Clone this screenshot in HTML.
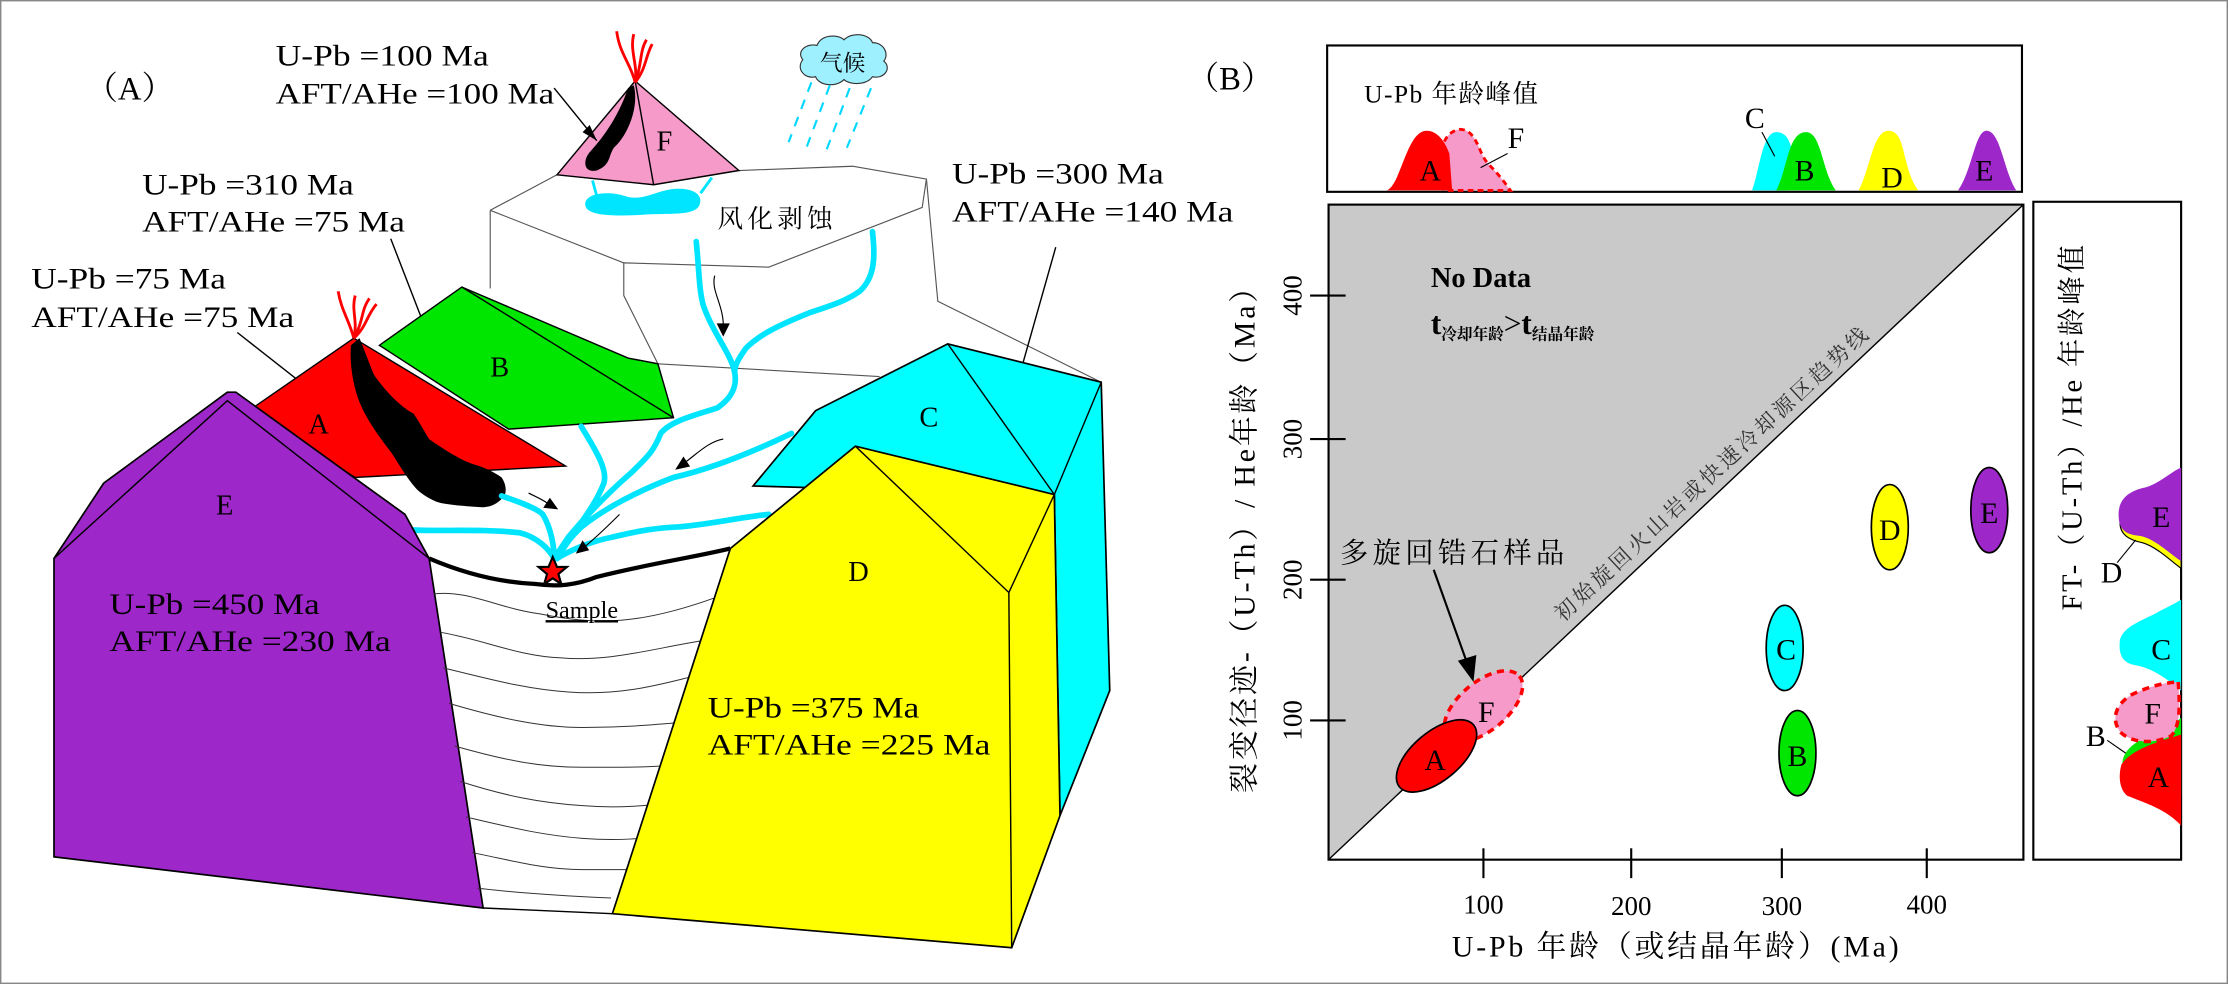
<!DOCTYPE html>
<html><head><meta charset="utf-8"><style>
html,body{margin:0;padding:0;background:#fff;}
svg{display:block;}
text{font-family:"Liberation Serif","Noto Serif CJK SC","Noto Sans CJK SC",serif;fill:#000;}
</style></head><body>
<svg width="2228" height="984" viewBox="0 0 1568 692.5" preserveAspectRatio="none" xmlns="http://www.w3.org/2000/svg">
<rect x="0.5" y="0.5" width="1567" height="691.5" fill="#fff" stroke="#888" stroke-width="1"/>

<!-- ========== PANEL A ========== -->
<text x="60" y="70" font-size="23">（A）</text>

<g fill="none" stroke="#555" stroke-width="0.8">
<polyline points="345,148 392,123"/>
<polyline points="520,120 600,117 652,126 649,146 541,188 439,185 345,148"/>
<polyline points="345,148 345,203"/>
<polyline points="439,185 439,208 463,256"/>
<polyline points="652,126 660,212 775,269"/>
<polyline points="463,256 619,265"/>
</g>
<path d="M412,145 C410,136 428,134 440,138 C452,142 462,134 474,133 C486,132 496,136 492,145 C488,152 470,150 455,151 C438,152 414,153 412,145 Z" fill="#00e5ff"/>
<path d="M417,127 L420,138 M501,125 L493,136" stroke="#00e5ff" stroke-width="2" fill="none"/>
<text x="505" y="160" font-size="18" letter-spacing="3">风化剥蚀</text>

<path d="M565,42 C560,36 568,30 575,32 C578,24 590,24 594,28 C600,22 612,24 614,30 C622,30 626,38 622,43 C628,48 622,56 614,54 C610,60 598,60 594,56 C588,62 576,60 574,54 C566,56 560,48 565,42 Z" fill="#9ef0ff" stroke="#333" stroke-width="0.8"/>
<text x="577" y="50" font-size="16">气候</text>
<g stroke="#00d8ff" stroke-width="1.5" stroke-dasharray="7,6" fill="none">
<line x1="571" y1="58" x2="555" y2="100"/>
<line x1="584" y1="60" x2="566" y2="108"/>
<line x1="598" y1="62" x2="580" y2="110"/>
<line x1="613" y1="62" x2="596" y2="104"/>
</g>

<polygon points="447,57 392,123 460,130 520,120" fill="#f59ac9" stroke="#000" stroke-width="1"/>
<line x1="447" y1="57" x2="460" y2="130" stroke="#000" stroke-width="1"/>
<path d="M446,60 C450,75 442,95 432,104 C428,110 430,116 420,120 C410,122 410,112 416,106 C426,95 436,80 442,62 Z" fill="#000"/>
<g stroke="#f00" stroke-width="2" fill="none">
<path d="M447,58 C444,45 436,38 434,22"/>
<path d="M447,58 C449,45 443,36 446,24"/>
<path d="M447,58 C452,45 450,36 455,28"/>
<path d="M447,58 C455,48 454,40 459,31"/>
</g>
<text x="462" y="106" font-size="20">F</text>

<text x="194" y="46" font-size="21" textLength="150" lengthAdjust="spacingAndGlyphs">U-Pb =100 Ma</text>
<text x="194" y="73" font-size="21" textLength="196" lengthAdjust="spacingAndGlyphs">AFT/AHe =100 Ma</text>
<line x1="390" y1="62" x2="420" y2="99" stroke="#000" stroke-width="1"/>
<polygon points="420,99 410,93 415,88" fill="#000"/>

<text x="100" y="137" font-size="21" textLength="149" lengthAdjust="spacingAndGlyphs">U-Pb =310 Ma</text>
<text x="100" y="163" font-size="21" textLength="185" lengthAdjust="spacingAndGlyphs">AFT/AHe =75 Ma</text>
<line x1="275" y1="168" x2="304" y2="243" stroke="#000" stroke-width="1"/>
<polygon points="304,243 297,230 305,229" fill="#000"/>

<text x="22" y="203" font-size="21" textLength="137" lengthAdjust="spacingAndGlyphs">U-Pb =75 Ma</text>
<text x="22" y="230" font-size="21" textLength="185" lengthAdjust="spacingAndGlyphs">AFT/AHe =75 Ma</text>
<line x1="167" y1="234" x2="223" y2="278" stroke="#000" stroke-width="1"/>
<polygon points="223,278 210,273 216,266" fill="#000"/>

<text x="670" y="129" font-size="21" textLength="149" lengthAdjust="spacingAndGlyphs">U-Pb =300 Ma</text>
<text x="670" y="156" font-size="21" textLength="198" lengthAdjust="spacingAndGlyphs">AFT/AHe =140 Ma</text>
<line x1="743" y1="174" x2="711" y2="287" stroke="#000" stroke-width="1"/>
<polygon points="711,287 707,272 716,274" fill="#000"/>

<polygon points="325,202 267,243 358,302 474,294 463,256 442,252" fill="#00e600" stroke="#000" stroke-width="1"/>
<line x1="325" y1="202" x2="474" y2="294" stroke="#000" stroke-width="1"/>
<text x="345" y="265" font-size="20">B</text>

<polygon points="249,238 398,328 250,336 160,282 178,287" fill="#ff0000" stroke="#000" stroke-width="1"/>
<path d="M247,243 L253,238 C258,250 262,262 264,265 C275,280 285,288 291,291 C297,300 300,306 302,309 C315,318 325,324 334,327 C345,330 353,336 353,336 C357,342 356,347 355,349 C350,355 345,357 339,357 C325,356 312,355 307,353 C300,350 296,347 293,344 C285,335 280,325 275,318 C265,305 258,295 253,283 C248,270 246,255 247,243 Z" fill="#000"/>
<g stroke="#f00" stroke-width="2" fill="none">
<path d="M249,238 C246,226 240,218 238,205"/>
<path d="M249,238 C252,226 247,218 250,208"/>
<path d="M249,238 C256,226 254,218 260,210"/>
<path d="M249,238 C258,230 258,222 265,214"/>
</g>
<text x="217" y="305" font-size="20">A</text>

<g stroke="#00e5ff" stroke-width="4" fill="none" stroke-linecap="round" stroke-linejoin="round">
<path d="M490,170 C492,190 492,205 495,215 C502,235 515,250 517,262 C519,272 515,280 505,287 C490,292 472,296 465,305 C460,318 455,322 445,332 C430,345 415,360 400,378 L390,393"/>
<path d="M614,163 C616,180 616,195 605,205 C595,212 585,215 570,220 C550,228 535,235 525,245 C518,255 517,258 517,262"/>
<path d="M409,300 C418,315 428,330 425,340 C418,358 405,372 392,393"/>
<path d="M557,305 C530,318 500,330 474,336 C450,345 425,358 409,371 C400,380 395,386 392,393"/>
<path d="M541,362 C520,364 495,370 474,371 C455,372 440,376 431,378 C415,381 400,388 392,393"/>
<path d="M291,373 C310,374 340,372 366,375 C378,378 386,386 390,393"/>
<path d="M353,349 C368,354 378,358 382,362 C388,372 390,385 390,393"/>
</g>
<g stroke="#000" stroke-width="0.8" fill="none">
<path d="M503,194 C500,205 510,215 509,232"/><polygon points="509,236 505,228 513,228" fill="#000"/>
<path d="M509,309 C498,311 490,320 480,327"/><polygon points="476,330 481,322 485,328" fill="#000"/>
<path d="M436,362 C428,370 420,378 410,386"/><polygon points="406,389 410,381 414,387" fill="#000"/>
<path d="M372,347 C378,350 383,352 388,356"/><polygon points="392,358 383,357 387,351" fill="#000"/>
</g>

<polygon points="160,276 73,340 38,393 38,603 340,639 302,393 285,362 166,276" fill="#9d27c9" stroke="#000" stroke-width="1.2"/>
<polyline points="38,393 160,282 302,393" fill="none" stroke="#000" stroke-width="1"/>
<text x="152" y="362" font-size="20">E</text>
<text x="77" y="432" font-size="21" textLength="148" lengthAdjust="spacingAndGlyphs">U-Pb =450 Ma</text>
<text x="77" y="458" font-size="21" textLength="198" lengthAdjust="spacingAndGlyphs">AFT/AHe =230 Ma</text>

<g stroke="#333" stroke-width="0.7" fill="none">
<path d="M305,418 C330,415 350,428 380,432 C420,440 450,440 505,420"/>
<path d="M310,445 C340,450 365,462 395,463 C430,466 460,456 500,450"/>
<path d="M312,470 C345,478 370,485 400,487 C440,490 470,480 492,475"/>
<path d="M316,495 C350,505 380,512 410,512 C440,512 460,510 485,508"/>
<path d="M320,525 C355,535 380,540 410,540 C440,540 460,540 478,538"/>
<path d="M324,550 C355,560 380,565 410,567 C435,569 455,567 472,565"/>
<path d="M328,575 C358,582 382,588 410,590 C435,592 455,590 466,588"/>
<path d="M332,600 C358,605 382,612 410,612 C432,612 450,612 460,612"/>
<path d="M336,625 C360,628 385,630 430,632"/>
</g>
<polyline points="340,639 431,643" fill="none" stroke="#000" stroke-width="1"/>

<polygon points="667,242 574,289 530,342 742,348 746,574 781,486 775,269" fill="#00ffff" stroke="#000" stroke-width="1.2"/>
<polyline points="667,242 742,348 775,269" fill="none" stroke="#000" stroke-width="1"/>
<text x="647" y="300" font-size="20">C</text>

<polygon points="602,314 514,386 431,643 712,667 746,574 742,348" fill="#ffff00" stroke="#000" stroke-width="1.2"/>
<polyline points="602,314 710,417 712,667" fill="none" stroke="#000" stroke-width="1"/>
<line x1="710" y1="417" x2="742" y2="348" stroke="#000" stroke-width="1"/>
<text x="597" y="409" font-size="20">D</text>
<text x="498" y="505" font-size="21" textLength="149" lengthAdjust="spacingAndGlyphs">U-Pb =375 Ma</text>
<text x="498" y="531" font-size="21" textLength="199" lengthAdjust="spacingAndGlyphs">AFT/AHe =225 Ma</text>

<path d="M302,393 C330,405 355,410 377,411 C392,413 405,412 420,406 C460,396 490,392 514,386" fill="none" stroke="#000" stroke-width="3"/>
<polygon points="389,392 392,399 399,399 393,404 395,411 389,407 383,411 385,404 379,399 386,399" fill="#f00" stroke="#000" stroke-width="1.5"/>
<text x="384" y="435" font-size="17" text-decoration="underline">Sample</text>

<!-- ========== PANEL B ========== -->
<text x="835" y="63" font-size="23">（B）</text>

<rect x="934" y="32" width="489" height="103" fill="#fff" stroke="#000" stroke-width="1.5"/>
<text x="960" y="72" font-size="18" letter-spacing="1">U-Pb 年龄峰值</text>
<path d="M1016,134 C1010,110 1015,92 1028,91 C1040,92 1040,108 1048,116 C1056,124 1060,130 1063,134 Z" fill="#f59ac9" stroke="#f00" stroke-width="2" stroke-dasharray="4,3"/>
<path d="M976,134 C986,130 990,92 1004,92 C1012,92 1017,100 1020,108 L1022,134 Z" fill="#f00"/>
<path d="M1233,134 C1238,122 1240,93 1250,93 C1258,93 1260,100 1262,110 L1258,134 Z" fill="#00ffff"/>
<path d="M1250,134 C1258,120 1258,93 1271,93 C1282,93 1282,120 1292,134 Z" fill="#00e600"/>
<path d="M1308,134 C1316,120 1318,92 1329,92 C1342,92 1338,118 1350,134 Z" fill="#ffff00"/>
<path d="M1378,134 C1388,120 1390,92 1398,92 C1408,92 1410,120 1419,134 Z" fill="#9d27c9"/>
<g font-size="21">
<text x="999" y="127">A</text>
<text x="1061" y="104">F</text>
<text x="1228" y="90">C</text>
<text x="1263" y="127">B</text>
<text x="1324" y="132">D</text>
<text x="1390" y="127">E</text>
</g>
<line x1="1061" y1="108" x2="1042" y2="118" stroke="#000" stroke-width="0.8"/>
<line x1="1240" y1="93" x2="1249" y2="110" stroke="#000" stroke-width="0.8"/>

<rect x="935" y="144" width="489" height="461" fill="#fff"/>
<polygon points="935,144 1424,144 935,605" fill="#c9c9c9"/>
<line x1="935" y1="605" x2="1424" y2="144" stroke="#000" stroke-width="1"/>
<rect x="935" y="144" width="489" height="461" fill="none" stroke="#000" stroke-width="1.5"/>
<g stroke="#000" stroke-width="1.5">
<line x1="1044" y1="597" x2="1044" y2="618"/>
<line x1="1148" y1="597" x2="1148" y2="618"/>
<line x1="1254" y1="597" x2="1254" y2="618"/>
<line x1="1356" y1="597" x2="1356" y2="618"/>
<line x1="922" y1="208" x2="947" y2="208"/>
<line x1="922" y1="309" x2="947" y2="309"/>
<line x1="922" y1="408" x2="947" y2="408"/>
<line x1="922" y1="507" x2="947" y2="507"/>
</g>
<g font-size="19" text-anchor="middle">
<text x="1044" y="643">100</text>
<text x="1148" y="644">200</text>
<text x="1254" y="644">300</text>
<text x="1356" y="643">400</text>
<text transform="translate(916,208) rotate(-90)">400</text>
<text transform="translate(916,309) rotate(-90)">300</text>
<text transform="translate(916,408) rotate(-90)">200</text>
<text transform="translate(916,507) rotate(-90)">100</text>
</g>
<text x="1180" y="673" font-size="21" text-anchor="middle" letter-spacing="2">U-Pb 年龄（或结晶年龄）(Ma)</text>
<text transform="translate(883,374) rotate(-90)" font-size="21" text-anchor="middle" letter-spacing="2">裂变径迹-（U-Th）/ He年龄（Ma）</text>

<text x="1007" y="202" font-size="20" font-weight="bold">No Data</text>
<text x="1007" y="235" font-size="22" font-weight="bold">t<tspan font-size="11" dy="4">冷却年龄</tspan><tspan font-size="22" dy="-4" font-weight="normal">&gt;</tspan>t<tspan font-size="11" dy="4">结晶年龄</tspan></text>
<text transform="translate(1100,438) rotate(-43)" font-size="15" style="fill:#333" letter-spacing="2.5">初始旋回火山岩或快速冷却源区趋势线</text>

<text x="943" y="396" font-size="20" letter-spacing="3">多旋回锆石样品</text>
<line x1="1009" y1="401" x2="1033" y2="468" stroke="#000" stroke-width="1.5"/>
<polygon points="1037,480 1026,465 1039,461" fill="#000"/>

<ellipse cx="1044" cy="497" rx="33" ry="17" transform="rotate(-40 1044 497)" fill="#f59ac9" stroke="#f00" stroke-width="2.5" stroke-dasharray="5,4"/>
<ellipse cx="1011" cy="532" rx="34" ry="17" transform="rotate(-40 1011 532)" fill="#f00" stroke="#000" stroke-width="1.2"/>
<ellipse cx="1256" cy="456" rx="13" ry="30" fill="#00ffff" stroke="#000" stroke-width="1.2"/>
<ellipse cx="1265" cy="530" rx="13" ry="30" fill="#00e600" stroke="#000" stroke-width="1.2"/>
<ellipse cx="1330" cy="371" rx="13" ry="30" fill="#ffff00" stroke="#000" stroke-width="1.2"/>
<ellipse cx="1400" cy="359" rx="13" ry="30" fill="#9d27c9" stroke="#000" stroke-width="1.2"/>
<g font-size="21" text-anchor="middle">
<text x="1010" y="542">A</text>
<text x="1046" y="508">F</text>
<text x="1257" y="464">C</text>
<text x="1265" y="539">B</text>
<text x="1330" y="380">D</text>
<text x="1400" y="368">E</text>
</g>

<rect x="1431" y="142" width="104" height="463" fill="#fff" stroke="#000" stroke-width="1.5"/>
<path d="M1535,368 L1535,400 C1528,395 1518,385 1508,382 C1498,380 1492,376 1492,368 Z" fill="#ffff00" stroke="#000" stroke-width="0.8"/>
<path d="M1535,329 L1535,395 C1525,388 1515,378 1505,377 C1495,376 1491,372 1491,362 C1491,350 1500,345 1510,343 C1520,340 1528,332 1535,329 Z" fill="#9d27c9"/>
<path d="M1535,422 L1535,486 C1525,478 1515,470 1502,468 C1492,466 1491,458 1492,450 C1495,440 1510,436 1520,430 C1528,426 1532,424 1535,422 Z" fill="#00ffff"/>
<path d="M1535,505 L1535,560 C1520,550 1500,548 1494,542 C1492,532 1498,525 1508,520 C1520,514 1530,510 1535,505 Z" fill="#00e600"/>
<path d="M1533,480 C1534,495 1535,510 1528,518 C1515,524 1500,523 1492,515 C1485,505 1490,495 1500,489 C1512,483 1525,480 1533,480 Z" fill="#f59ac9" stroke="#f00" stroke-width="2.5" stroke-dasharray="5,4"/>
<path d="M1535,517 L1535,581 C1525,570 1510,565 1497,560 C1491,555 1491,545 1493,538 C1500,528 1515,523 1535,517 Z" fill="#f00"/>
<g font-size="21" text-anchor="middle">
<text x="1521" y="371">E</text>
<text x="1486" y="410">D</text>
<text x="1521" y="464">C</text>
<text x="1515" y="509">F</text>
<text x="1475" y="525">B</text>
<text x="1519" y="554">A</text>
</g>
<line x1="1490" y1="396" x2="1503" y2="380" stroke="#000" stroke-width="0.8"/>
<line x1="1483" y1="521" x2="1496" y2="530" stroke="#000" stroke-width="0.8"/>
<text transform="translate(1465,300) rotate(-90)" font-size="20" text-anchor="middle" letter-spacing="2">FT-（U-Th）/He 年龄峰值</text>
</svg>
</body></html>
